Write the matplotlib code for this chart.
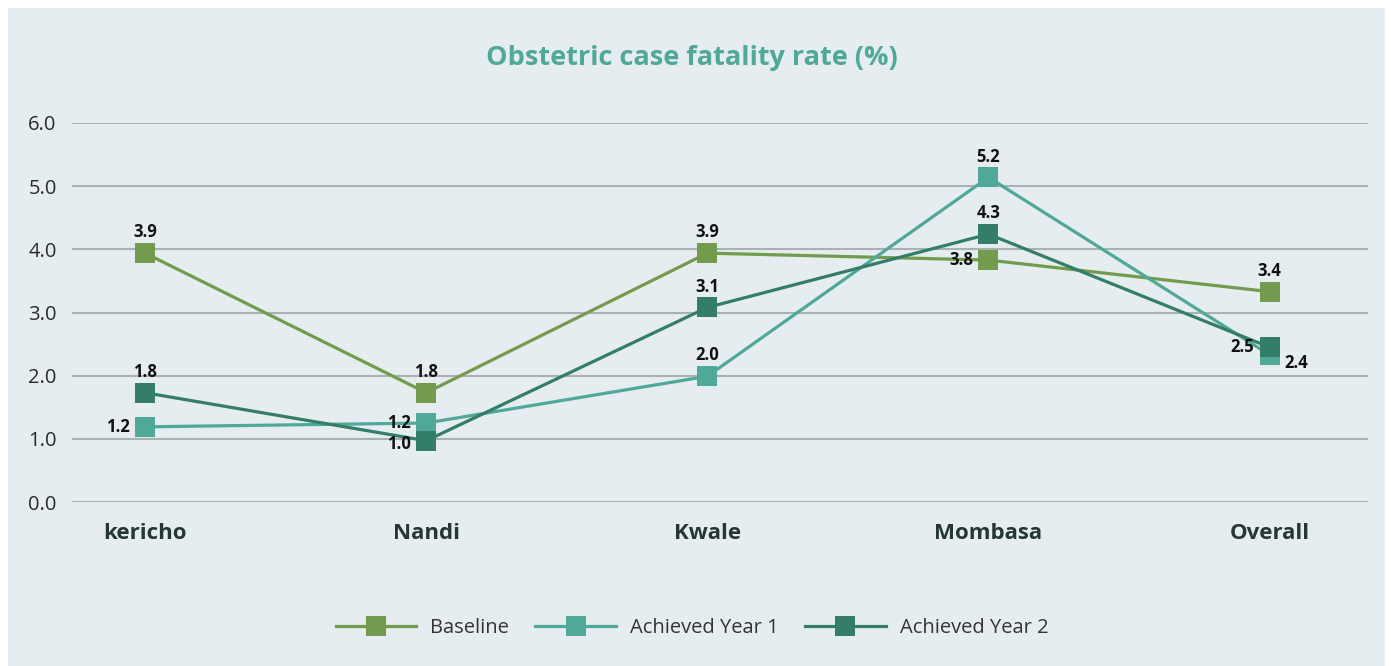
import matplotlib
matplotlib.use("Agg")
import matplotlib.pyplot as plt
from matplotlib.patches import Rectangle
from matplotlib.lines import Line2D

categories = ["kericho", "Nandi", "Kwale", "Mombasa", "Overall"]
baseline = [3.94, 1.73, 3.94, 3.83, 3.33]
year1 = [1.19, 1.25, 1.99, 5.14, 2.33]
year2 = [1.73, 0.97, 3.08, 4.24, 2.45]
baseline_labels = ["3.9", "1.8", "3.9", "3.8", "3.4"]
year1_labels = ["1.2", "1.2", "2.0", "5.2", "2.4"]
year2_labels = ["1.8", "1.0", "3.1", "4.3", "2.5"]
yticks = [0, 1, 2, 3, 4, 5, 6]

C_BASE = "#739b4d"
C_Y1 = "#4fa898"
C_Y2 = "#337d69"
BG = "#e5edf0"
GRID = "#aab1b4"

plt.rcParams["font.family"] = ["Open Sans", "DejaVu Sans"]

W, H = 1391, 666
fig = plt.figure(figsize=(W / 100, H / 100), dpi=100)
fig.patch.set_facecolor("white")
fig.patches.append(Rectangle((8 / W, 0), (1385 - 8) / W, (666 - 8) / H,
                             transform=fig.transFigure, facecolor=BG,
                             edgecolor="none", zorder=-10))

ax = fig.add_axes([72 / W, 1 - 502 / H, (1368 - 72) / W, (502 - 123) / H])
ax.set_facecolor("none")
ax.set_xlim(-0.26, 4.35)
ax.set_ylim(0, 6)
for s in ax.spines.values():
    s.set_visible(False)
ax.set_yticks(yticks)
ax.set_yticklabels([f"{v:.1f}" for v in yticks])
ax.yaxis.grid(True, color=GRID, linewidth=1.5)
ax.set_axisbelow(True)
ax.tick_params(axis="y", length=0, pad=11, labelsize=14.5, labelcolor="#2a2a2a")
x = list(range(len(categories)))
ax.set_xticks(x)
ax.set_xticklabels(categories, fontweight="bold")
ax.tick_params(axis="x", length=0, pad=15, labelsize=16, labelcolor="#263636")

series = [(baseline, baseline_labels, C_BASE, "Baseline"),
          (year1, year1_labels, C_Y1, "Achieved Year 1"),
          (year2, year2_labels, C_Y2, "Achieved Year 2")]
for vals, labs, col, name in series:
    ax.plot(x, vals, color=col, linewidth=2.3, marker="s", markersize=15,
            markeredgewidth=0, clip_on=False, zorder=3)

placement = {
    "Baseline": ["c", "c", "c", "l", "c"],
    "Achieved Year 1": ["l", "l", "c", "c", "r"],
    "Achieved Year 2": ["c", "lb", "c", "c", "l"],
}
for vals, labs, col, name in series:
    for i, (v, t) in enumerate(zip(vals, labs)):
        p = placement[name][i]
        if p == "c":
            off, ha, va = (0, 8.5), "center", "bottom"
        elif p == "l":
            off, ha, va = (-11, 0), "right", "center"
        elif p == "lb":
            off, ha, va = (-11, -2), "right", "center"
        else:
            off, ha, va = (11, -6), "left", "center"
        ax.annotate(t, (i, v), xytext=off, textcoords="offset points",
                    ha=ha, va=va, fontsize=12, fontweight="bold",
                    color="#111111", zorder=5, annotation_clip=False)

fig.text(692 / W, 1 - 58 / H, "Obstetric case fatality rate (%)",
         ha="center", va="center", fontsize=19.5, fontweight="bold", color="#4fa898")

handles = [Line2D([], [], color=c, linewidth=2.3, marker="s", markersize=15,
                  markeredgewidth=0) for _, _, c, _ in series]
fig.legend(handles, [s[3] for s in series], loc="center",
           bbox_to_anchor=(692 / W, 1 - 628 / H), ncol=3, frameon=False,
           fontsize=14.5, handlelength=4.0, columnspacing=1.3, handletextpad=0.7,
           labelcolor="#333333")

fig.savefig("out.png", dpi=100, facecolor=fig.get_facecolor())
